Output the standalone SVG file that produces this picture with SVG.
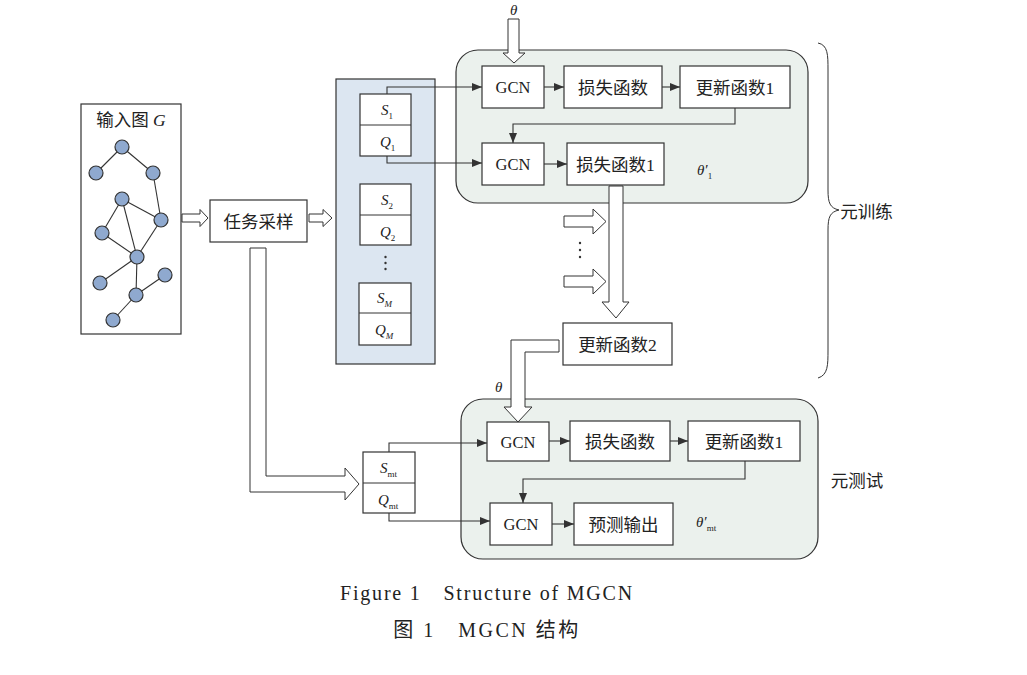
<svg xmlns="http://www.w3.org/2000/svg" width="1027" height="675" viewBox="0 0 1027 675">
<style>
.bx{fill:#fff;stroke:#333;stroke-width:1.2}
.ln{fill:none;stroke:#333;stroke-width:1.1}
.ha{fill:#fff;stroke:#333;stroke-width:1}
.gn{fill:#8fa9cf;stroke:#333;stroke-width:1.2}
.ge{stroke:#333;stroke-width:1.1}
.zh{font-family:"Liberation Serif","Noto Sans CJK SC",serif;font-size:17.5px;fill:#222;text-anchor:middle}
.en{font-family:"Liberation Serif",serif;font-size:16.5px;fill:#222;text-anchor:middle}
.it{font-family:"Liberation Serif",serif;font-style:italic;font-size:15px;fill:#222}
.sb{font-size:9px}
.cap{font-family:"Liberation Serif","Noto Sans CJK SC",serif;font-size:20px;fill:#222;text-anchor:middle}
</style>
<defs>
<marker id="ar" viewBox="0 0 10 8" refX="10" refY="4" markerWidth="10" markerHeight="8" markerUnits="userSpaceOnUse" orient="auto">
<path d="M0,0 L10,4 L0,8 Z" fill="#333"/>
</marker>
</defs>
<rect width="1027" height="675" fill="#fff"/>

<g id="input-graph">
<rect x="81" y="104" width="100" height="230" class="bx"/>
<text x="131" y="126" class="zh" font-size="17">输入图 <tspan font-style="italic">G</tspan></text>
<g>
<line x1="122" y1="147" x2="96" y2="173" class="ge"/>
<line x1="122" y1="147" x2="153" y2="173" class="ge"/>
<line x1="153" y1="173" x2="161" y2="220" class="ge"/>
<line x1="122" y1="199" x2="161" y2="220" class="ge"/>
<line x1="122" y1="199" x2="102" y2="233" class="ge"/>
<line x1="122" y1="199" x2="137" y2="257" class="ge"/>
<line x1="102" y1="233" x2="137" y2="257" class="ge"/>
<line x1="161" y1="220" x2="137" y2="257" class="ge"/>
<line x1="137" y1="257" x2="100" y2="283" class="ge"/>
<line x1="137" y1="257" x2="136" y2="295" class="ge"/>
<line x1="136" y1="295" x2="165" y2="275" class="ge"/>
<line x1="136" y1="295" x2="113" y2="320" class="ge"/>
</g>
<circle cx="122" cy="147" r="7" class="gn"/>
<circle cx="96" cy="173" r="7" class="gn"/>
<circle cx="153" cy="173" r="7" class="gn"/>
<circle cx="122" cy="199" r="7" class="gn"/>
<circle cx="161" cy="220" r="7" class="gn"/>
<circle cx="102" cy="233" r="7" class="gn"/>
<circle cx="137" cy="257" r="7" class="gn"/>
<circle cx="100" cy="283" r="7" class="gn"/>
<circle cx="165" cy="275" r="7" class="gn"/>
<circle cx="136" cy="295" r="7" class="gn"/>
<circle cx="113" cy="320" r="7" class="gn"/>
</g>

<g id="task-sampling">
<rect x="210" y="200" width="97" height="42" class="bx"/>
<text x="258.5" y="227.5" class="zh">任务采样</text>
</g>

<g id="task-panel">
<rect x="336" y="79" width="99" height="285" fill="#dce6f1" stroke="#333" stroke-width="1.2"/>
<g id="task-1">
<rect x="360" y="94" width="51" height="62" class="bx"/>
<line x1="360" y1="125" x2="411" y2="125" stroke="#333" stroke-width="1"/>
<text x="381" y="115" class="it">S<tspan class="sb" font-style="normal" dy="4">1</tspan></text>
<text x="380" y="147" class="it">Q<tspan class="sb" font-style="normal" dy="4">1</tspan></text>
</g>
<g id="task-2">
<rect x="360" y="184" width="51" height="61" class="bx"/>
<line x1="360" y1="215" x2="411" y2="215" stroke="#333" stroke-width="1"/>
<text x="381" y="205" class="it">S<tspan class="sb" font-style="normal" dy="4">2</tspan></text>
<text x="380" y="237" class="it">Q<tspan class="sb" font-style="normal" dy="4">2</tspan></text>
</g>
<g fill="#333">
<circle cx="385.5" cy="257" r="1.2"/>
<circle cx="385.5" cy="263" r="1.2"/>
<circle cx="385.5" cy="269" r="1.2"/>
</g>
<g id="task-M">
<rect x="359" y="283" width="52" height="62" class="bx"/>
<line x1="359" y1="313" x2="411" y2="313" stroke="#333" stroke-width="1"/>
<text x="377" y="303" class="it">S<tspan class="sb" dy="4">M</tspan></text>
<text x="375" y="335" class="it">Q<tspan class="sb" dy="4">M</tspan></text>
</g>
</g>

<g id="meta-train-panel">
<rect x="456" y="50" width="352" height="153" rx="22" fill="#ebf1ed" stroke="#333" stroke-width="1.2"/>
</g>
<g id="gcn-1">
<rect x="482" y="66" width="62" height="42" class="bx"/>
<text x="513" y="93" class="en">GCN</text>
</g>
<g id="loss-1">
<rect x="564" y="66" width="98" height="42" class="bx"/>
<text x="613" y="93.5" class="zh">损失函数</text>
</g>
<g id="update-1">
<rect x="680" y="66" width="110" height="42" class="bx"/>
<text x="735" y="93.5" class="zh">更新函数1</text>
</g>
<g id="gcn-2">
<rect x="482" y="143" width="62" height="42" class="bx"/>
<text x="513" y="170" class="en">GCN</text>
</g>
<g id="loss-1b">
<rect x="567" y="143" width="97" height="42" class="bx"/>
<text x="615.5" y="170.5" class="zh">损失函数1</text>
</g>
<g id="theta1-label">
<text x="697" y="175" class="it">θ′<tspan class="sb" font-style="normal" dy="4">1</tspan></text>
</g>
<g id="theta-top-label">
<text x="510" y="15" class="it">θ</text>
</g>

<g id="update-2">
<rect x="563" y="323" width="109" height="42" class="bx"/>
<text x="617.5" y="350.5" class="zh">更新函数2</text>
</g>

<g id="meta-test-panel">
<rect x="461" y="399" width="357" height="160" rx="22" fill="#ebf1ed" stroke="#333" stroke-width="1.2"/>
</g>
<g id="gcn-3">
<rect x="487" y="422" width="62" height="39" class="bx"/>
<text x="518" y="447.5" class="en">GCN</text>
</g>
<g id="loss-2">
<rect x="570" y="421" width="100" height="40" class="bx"/>
<text x="620" y="447.5" class="zh">损失函数</text>
</g>
<g id="update-1c">
<rect x="688" y="421" width="112" height="40" class="bx"/>
<text x="744" y="447.5" class="zh">更新函数1</text>
</g>
<g id="gcn-4">
<rect x="490" y="503" width="62" height="42" class="bx"/>
<text x="521" y="530" class="en">GCN</text>
</g>
<g id="predict">
<rect x="574" y="503" width="99" height="42" class="bx"/>
<text x="623.5" y="530.5" class="zh">预测输出</text>
</g>
<g id="thetamt-label">
<text x="696" y="527" class="it">θ′<tspan class="sb" font-style="normal" dy="4">mt</tspan></text>
</g>
<g id="theta-bottom-label">
<text x="495" y="392" class="it">θ</text>
</g>

<g id="task-mt">
<rect x="363" y="452" width="52" height="61" class="bx"/>
<line x1="363" y1="483" x2="415" y2="483" stroke="#333" stroke-width="1"/>
<text x="380" y="473" class="it">S<tspan class="sb" font-style="normal" dy="4">mt</tspan></text>
<text x="378" y="505" class="it">Q<tspan class="sb" font-style="normal" dy="4">mt</tspan></text>
</g>

<g id="labels">
<text x="866.5" y="218" class="zh" font-size="18.5">元训练</text>
<text x="857" y="487" class="zh" font-size="17.5">元测试</text>
</g>

<g id="connectors">
<path d="M182,214 H200 V209.5 L208,218 L200,226.5 V222 H182 Z" class="ha"/>
<path d="M309,214 H323 V209.5 L332,218 L323,226.5 V222 H309 Z" class="ha"/>
<path d="M508,19 H519 V53 H525 L514,63 L503,53 H508 Z" class="ha"/>
<path d="M387,94 V87 H482" class="ln" marker-end="url(#ar)"/>
<path d="M387,156 V163 H482" class="ln" marker-end="url(#ar)"/>
<line x1="544" y1="87" x2="564" y2="87" class="ln" marker-end="url(#ar)"/>
<line x1="662" y1="87" x2="680" y2="87" class="ln" marker-end="url(#ar)"/>
<path d="M735,108 V124 H513 V143" class="ln" marker-end="url(#ar)"/>
<line x1="544" y1="164" x2="567" y2="164" class="ln" marker-end="url(#ar)"/>
<path d="M609,186 H623 V302 H629 L616,318 L602,302 H609 Z" class="ha"/>
<path d="M564,216 H593 V209 L606,221.5 L593,234 V227 H564 Z" class="ha"/>
<path d="M564,276 H593 V269 L606,281.5 L593,294 V287 H564 Z" class="ha"/>
<g fill="#333">
<circle cx="580" cy="243" r="1.2"/>
<circle cx="580" cy="250" r="1.2"/>
<circle cx="580" cy="257" r="1.2"/>
</g>
<path d="M559,340 H511 V407 H504 L518,422 L532,407 H525 V352 H559 Z" class="ha"/>
<path d="M250,248 H266 V476 H345 V468 L359,484 L345,500 V492 H250 Z" class="ha"/>
<path d="M389,452 V443 H487" class="ln" marker-end="url(#ar)"/>
<path d="M389,513 V521 H490" class="ln" marker-end="url(#ar)"/>
<line x1="549" y1="441" x2="570" y2="441" class="ln" marker-end="url(#ar)"/>
<line x1="670" y1="441" x2="688" y2="441" class="ln" marker-end="url(#ar)"/>
<path d="M745,461 V479 H523 V503" class="ln" marker-end="url(#ar)"/>
<line x1="552" y1="524" x2="574" y2="524" class="ln" marker-end="url(#ar)"/>
<path d="M818,43 C828,45 828,55 828,70 V190 C828,203 830,208 839,210 C830,212 828,217 828,230 V350 C828,365 828,375 818,378" fill="none" stroke="#333" stroke-width="1"/>
</g>

<g id="caption">
<text x="487" y="600" class="cap" letter-spacing="1.8">Figure 1　Structure of MGCN</text>
<text x="487" y="637" class="cap" letter-spacing="2.5">图 1　MGCN 结构</text>
</g>
</svg>
